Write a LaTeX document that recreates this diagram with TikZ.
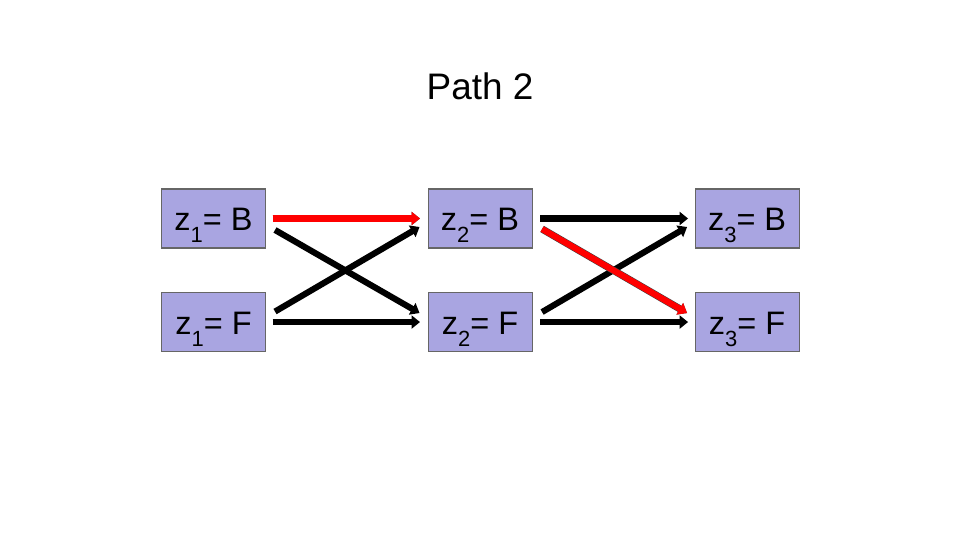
\documentclass[tikz,border=0pt]{standalone}
\usepackage{fontspec}
\setmainfont{Liberation Sans}
\usepackage{tikz}
\usetikzlibrary{positioning, arrows.meta}

\definecolor{boxfill}{RGB}{169,165,225}
\newcommand{\zsub}[1]{\raisebox{-6.8pt}{\fontsize{12.5}{12.5}\selectfont #1}}

\begin{document}
\begin{tikzpicture}
					\tikzstyle{state} = [rectangle, draw=black!60, line width=0.6pt, fill=boxfill, minimum width=2.08cm, minimum height=1.18cm, inner sep=0pt, text height=0.48cm, text depth=0pt, font=\fontsize{18.5}{22}\selectfont]
					\tikzstyle{arr} = [-{Triangle[length=0.17cm,width=0.26cm]}, line width=3.5pt]
					\tikzstyle{redarr} = [arr, draw=red, preaction={draw=black!75, line width=4.1pt}]
					
					\useasboundingbox (0,0) rectangle (19.2,-10.8);
					
					\node [font=\fontsize{21}{25}\selectfont] (titolo) at (9.6,-1.72) {Path 2};
					
					\node [state] (b1) at (4.27,-4.37) {z\zsub{1}= B};
					\node [state, below=0.87cm of b1] (f1) {z\zsub{1}= F};
					\node [state, right=3.23cm of b1] (b2) {z\zsub{2}= B};
					\node [state, below=0.87cm of b2] (f2) {z\zsub{2}= F};
					\node [state, right=3.24cm of b2] (b3) {z\zsub{3}= B};
					\node [state, below=0.87cm of b3] (f3) {z\zsub{3}= F};
					
					\draw [arr] ([shift={(0.18,0.21)}]f1.east) -- ([shift={(-0.16,-0.17)}]b2.west);
					\draw [arr] ([shift={(0.18,-0.23)}]b1.east) -- ([shift={(-0.16,0.18)}]f2.west);
					\draw [redarr] ([xshift=0.13cm]b1.east) -- ([xshift=-0.15cm]b2.west);
					\draw [arr] ([xshift=0.13cm]f1.east) -- ([xshift=-0.15cm]f2.west);
					
					\draw [arr] ([xshift=0.15cm]b2.east) -- ([xshift=-0.13cm]b3.west);
					\draw [arr] ([xshift=0.15cm]f2.east) -- ([xshift=-0.13cm]f3.west);
					\draw [arr] ([shift={(0.19,0.2)}]f2.east) -- ([shift={(-0.15,-0.17)}]b3.west);
					\draw [redarr] ([shift={(0.19,-0.21)}]b2.east) -- ([shift={(-0.15,0.18)}]f3.west);
				\end{tikzpicture}
\end{document}
